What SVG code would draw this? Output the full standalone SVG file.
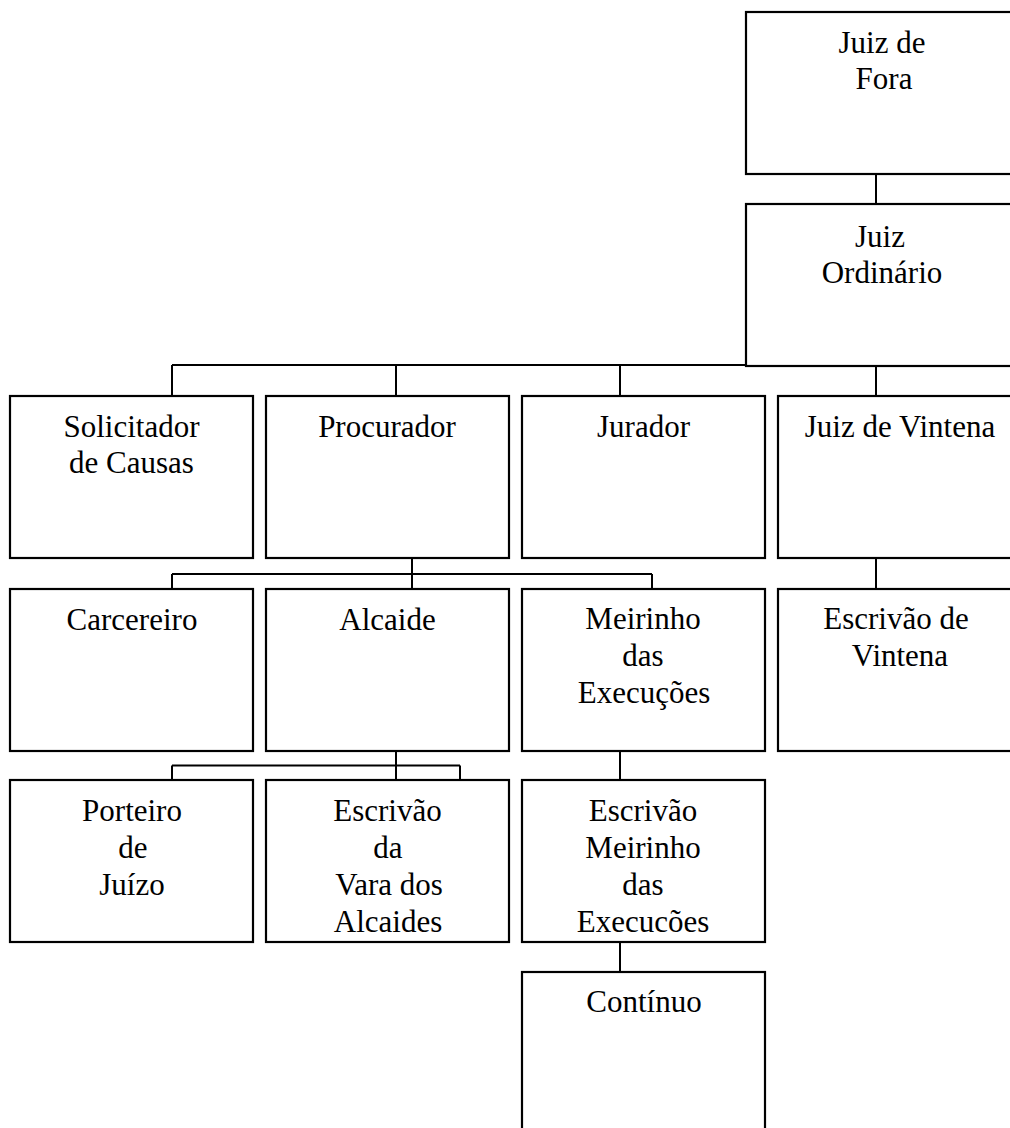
<svg xmlns="http://www.w3.org/2000/svg" width="1010" height="1128" viewBox="0 0 1010 1128">
<style>
.box{fill:#fff;stroke:#000;stroke-width:2.2}
.c{fill:none;stroke:#000;stroke-width:2}
text{font-family:"Liberation Serif","Times New Roman",serif;font-size:31px;fill:#000;text-anchor:middle}
</style>
<rect width="1010" height="1128" fill="#fff"/>
<g id="connectors">
<path class="c" d="M876 174V204"/>
<path class="c" d="M172 365H780M172 365V396M396 365V396M620 365V396M876 366V396"/>
<path class="c" d="M172 574H652M412 558V589M172 574V589M652 574V589"/>
<path class="c" d="M876 558V589"/>
<path class="c" d="M172 765.5H460M396 750V780M172 765.5V780M460 765.5V780"/>
<path class="c" d="M620 750V780M620 942V972"/>
</g>
<g id="juiz-de-fora"><rect class="box" x="746" y="12" width="272" height="162"/><text x="882" y="53">Juiz de</text><text x="884" y="89">Fora</text></g>
<g id="juiz-ordinario"><rect class="box" x="746" y="204" width="272" height="162"/><text x="880" y="247">Juiz</text><text x="882" y="283">Ordinário</text></g>
<g id="solicitador"><rect class="box" x="10" y="396" width="243" height="162"/><text x="131.5" y="437">Solicitador</text><text x="131.5" y="473">de Causas</text></g>
<g id="procurador"><rect class="box" x="266" y="396" width="243" height="162"/><text x="387" y="437">Procurador</text></g>
<g id="jurador"><rect class="box" x="522" y="396" width="243" height="162"/><text x="643.5" y="437">Jurador</text></g>
<g id="juiz-de-vintena"><rect class="box" x="778" y="396" width="244" height="162"/><text x="900" y="437">Juiz de Vintena</text></g>
<g id="carcereiro"><rect class="box" x="10" y="589" width="243" height="162"/><text x="132" y="630">Carcereiro</text></g>
<g id="alcaide"><rect class="box" x="266" y="589" width="243" height="162"/><text x="387.5" y="630">Alcaide</text></g>
<g id="meirinho"><rect class="box" x="522" y="589" width="243" height="162"/><text x="643" y="629">Meirinho</text><text x="643" y="666">das</text><text x="644" y="703">Execuções</text></g>
<g id="escrivao-vintena"><rect class="box" x="778" y="589" width="244" height="162"/><text x="896" y="629">Escrivão de</text><text x="900" y="666">Vintena</text></g>
<g id="porteiro"><rect class="box" x="10" y="780" width="243" height="162"/><text x="132" y="821">Porteiro</text><text x="133" y="858">de</text><text x="132" y="895">Juízo</text></g>
<g id="escrivao-vara"><rect class="box" x="266" y="780" width="243" height="162"/><text x="387.5" y="821">Escrivão</text><text x="388" y="858">da</text><text x="389" y="895">Vara dos</text><text x="388" y="932">Alcaides</text></g>
<g id="escrivao-meirinho"><rect class="box" x="522" y="780" width="243" height="162"/><text x="643" y="821">Escrivão</text><text x="643" y="858">Meirinho</text><text x="643" y="895">das</text><text x="643" y="932">Execucões</text></g>
<g id="continuo"><rect class="box" x="522" y="972" width="243" height="170"/><text x="644" y="1012">Contínuo</text></g>
</svg>
